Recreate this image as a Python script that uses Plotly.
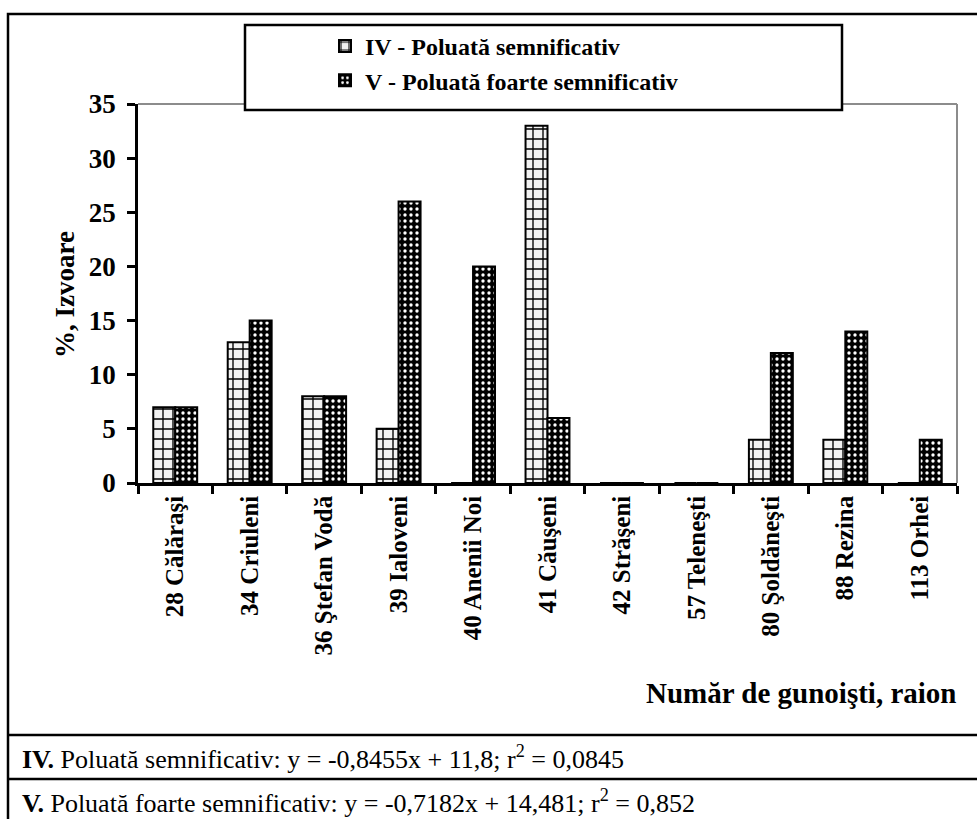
import plotly.graph_objects as go

categories = ["28 Călăraşi", "34 Criuleni", "36 Ştefan Vodă", "39 Ialoveni", "40 Anenii Noi",
              "41 Căuşeni", "42 Străşeni", "57 Teleneşti", "80 Şoldăneşti", "88 Rezina", "113 Orhei"]
iv_values = [7, 13, 8, 5, 0, 33, 0, 0, 4, 4, 0]
v_values = [7, 15, 8, 26, 20, 6, 0, 0, 12, 14, 4]
series_names = ["IV - Poluată semnificativ", "V - Poluată foarte semnificativ"]
y_ticks = [0, 5, 10, 15, 20, 25, 30, 35]
y_title = "%, Izvoare"
x_title = "Număr de gunoişti, raion"
row_iv = "<b>IV.</b> Poluată semnificativ: y = -0,8455x + 11,8; r<sup>2</sup> = 0,0845"
row_v = "<b>V.</b> Poluată foarte semnificativ: y = -0,7182x + 14,481; r<sup>2</sup> = 0,852"

W, H = 977, 819
FONT = "Liberation Serif"


def X(px):
    return px / W


def Y(py):
    return 1 - py / H


fig = go.Figure()
fig.add_trace(go.Bar(
    x=categories, y=iv_values, name=series_names[0],
    marker=dict(color="#f2f2f2", line=dict(color="black", width=2),
                pattern=dict(shape="+", bgcolor="#f2f2f2", fgcolor="black",
                             size=10, solidity=0.25, fillmode="replace")),
))
fig.add_trace(go.Bar(
    x=categories, y=v_values, name=series_names[1],
    marker=dict(color="black", line=dict(color="black", width=2),
                pattern=dict(shape=".", bgcolor="black", fgcolor="white",
                             size=6, solidity=0.25, fillmode="replace")),
))

px_left, px_right, px_top, px_bottom = 138, 957, 104, 483

fig.update_layout(
    width=W, height=H, autosize=False,
    margin=dict(l=0, r=0, t=0, b=0, pad=0, autoexpand=False),
    paper_bgcolor="white", plot_bgcolor="white",
    barmode="group", bargap=0.41, bargroupgap=0,
    font=dict(family=FONT, color="black"),
    xaxis=dict(domain=[X(px_left), X(px_right)], type="category", automargin=False,
               showline=True, linecolor="black", linewidth=2.5,
               ticks="outside", tickson="boundaries", ticklen=8, tickwidth=2.5, tickcolor="black",
               tickangle=-90, tickfont=dict(family=FONT, size=25, weight="bold", color="black"),
               showgrid=False, zeroline=False),
    yaxis=dict(domain=[Y(px_bottom), Y(px_top)], range=[0, 35], tickvals=y_ticks, automargin=False,
               showline=True, linecolor="black", linewidth=2.5,
               ticks="outside", ticklen=8, tickwidth=2.5, tickcolor="black", ticklabelstandoff=6,
               tickfont=dict(family=FONT, size=27, weight="bold", color="black"),
               showgrid=False, zeroline=False),
    legend=dict(x=X(325), y=Y(24), xanchor="left", yanchor="top",
                bgcolor="rgba(0,0,0,0)", borderwidth=0,
                font=dict(family=FONT, size=24, weight="bold", color="black"),
                itemwidth=30),
    showlegend=True,
)

shapes = [
    # outer frame
    dict(type="rect", xref="paper", yref="paper", x0=X(8), x1=1.02, y0=-0.02, y1=Y(14),
         line=dict(color="black", width=2.5), fillcolor="rgba(0,0,0,0)", layer="below"),
    dict(type="line", xref="paper", yref="paper", x0=X(8), x1=1.02, y0=Y(735), y1=Y(735),
         line=dict(color="black", width=2.5)),
    dict(type="line", xref="paper", yref="paper", x0=X(8), x1=1.02, y0=Y(779), y1=Y(779),
         line=dict(color="black", width=2.5)),
    # plot area grey border (top & right)
    dict(type="line", xref="paper", yref="paper", x0=X(px_left), x1=X(px_right), y0=Y(px_top), y1=Y(px_top),
         line=dict(color="#8c8c8c", width=2)),
    dict(type="line", xref="paper", yref="paper", x0=X(px_right), x1=X(px_right), y0=Y(px_top), y1=Y(px_bottom),
         line=dict(color="#8c8c8c", width=2)),
    # legend box
    dict(type="rect", xref="paper", yref="paper", x0=X(245), x1=X(842), y0=Y(110), y1=Y(25),
         line=dict(color="black", width=2.5), fillcolor="white", layer="above"),
]
fig.update_layout(shapes=shapes)

annotations = [
    dict(text=y_title, xref="paper", yref="paper", x=X(65), y=Y(295), textangle=-90,
         showarrow=False, xanchor="center", yanchor="middle",
         font=dict(family=FONT, size=27, weight="bold", color="black")),
    dict(text=x_title, xref="paper", yref="paper", x=X(958), y=Y(693),
         showarrow=False, xanchor="right", yanchor="middle",
         font=dict(family=FONT, size=29, weight="bold", color="black")),
    dict(text=row_iv, xref="paper", yref="paper", x=X(20), y=Y(757),
         showarrow=False, xanchor="left", yanchor="middle",
         font=dict(family=FONT, size=26, color="black")),
    dict(text=row_v, xref="paper", yref="paper", x=X(20), y=Y(801),
         showarrow=False, xanchor="left", yanchor="middle",
         font=dict(family=FONT, size=26, color="black")),
]
fig.update_layout(annotations=annotations)

fig.write_html("out.html", config={"displayModeBar": False},
               post_script="document.body.style.margin='0';document.body.style.overflow='hidden';")
